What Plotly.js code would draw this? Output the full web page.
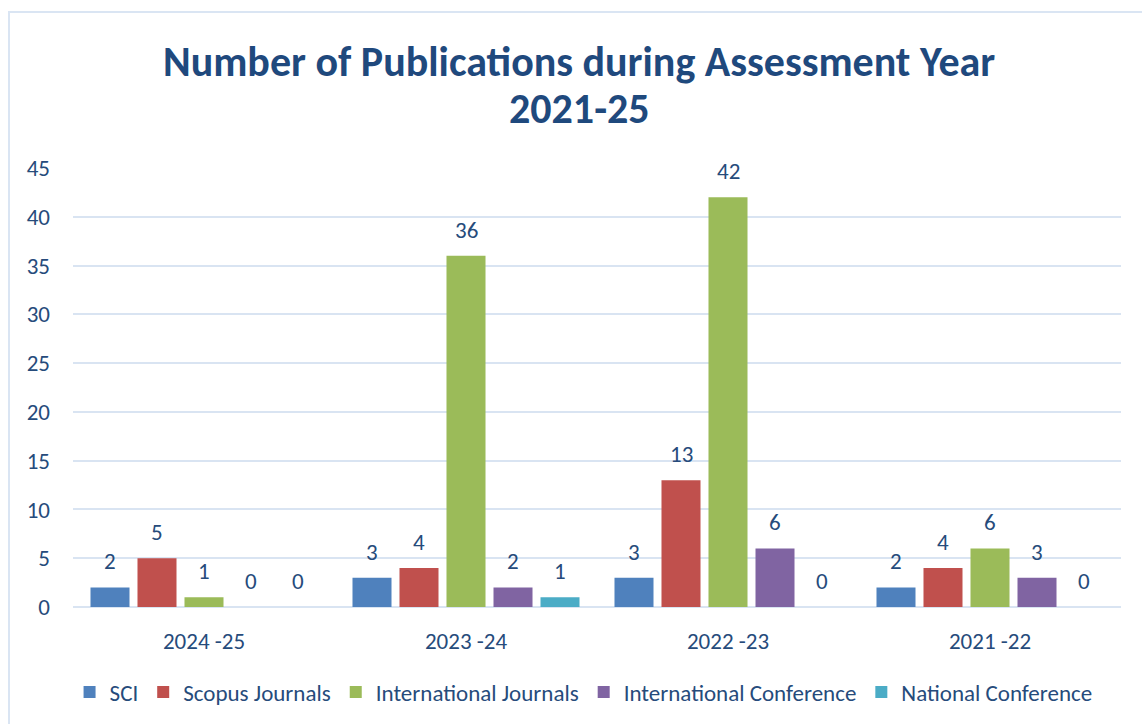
<!DOCTYPE html>
<html>
<head>
<meta charset="utf-8">
<script src="https://cdn.plot.ly/plotly-3.0.1.min.js"></script>
<style>
  html, body { margin: 0; padding: 0; background: #ffffff; overflow: hidden; }
  #frame { position: absolute; left: 8px; top: 11px; width: 1150px; height: 730px;
           border: 2px solid #DAE5F3; box-sizing: border-box; pointer-events: none; }
  #chart { position: absolute; left: 0; top: 0; width: 1142px; height: 724px; }
</style>
</head>
<body>
<div id="chart"></div>
<div id="frame"></div>
<script>
const categories = ["2024 -25", "2023 -24", "2022 -23", "2021 -22"];
const seriesNames = ["SCI", "Scopus Journals", "International Journals", "International Conference", "National Conference"];
const sci = [2, 3, 3, 2];
const scopus = [5, 4, 13, 4];
const intlJournals = [1, 36, 42, 6];
const intlConference = [0, 2, 6, 3];
const nationalConference = [0, 1, 0, 0];
const yTicks = [0, 5, 10, 15, 20, 25, 30, 35, 40, 45];
const titleLines = ["Number of Publications during Assessment Year", "2021-25"];

const seriesValues = [sci, scopus, intlJournals, intlConference, nationalConference];
const colors = ["#4F81BD", "#C0504D", "#9BBB59", "#8064A2", "#4BACC6"];
const textColor = "#264B7B";
const fontFam = "Calibri, Carlito, Lato, 'Open Sans', sans-serif";
const bargap = 0.103;

const traces = seriesValues.map((vals, i) => ({
  type: "bar",
  name: seriesNames[i],
  x: categories,
  y: vals,
  marker: { color: colors[i] },
  hoverinfo: "skip"
}));

const nS = seriesValues.length;
const slot = (1 - bargap) / nS;
const annotations = [];
seriesValues.forEach((vals, i) => {
  vals.forEach((v, c) => {
    annotations.push({
      xref: "x", yref: "y",
      x: c + (i - (nS - 1) / 2) * slot,
      y: v,
      text: String(v),
      showarrow: false,
      yanchor: "bottom",
      yshift: 10,
      font: { family: fontFam, size: 23, color: textColor }
    });
  });
});

// title lines as annotations (paper coords above plot area)
const titleY = [1.243, 1.135];
titleLines.forEach((t, k) => {
  annotations.push({
    xref: "paper", yref: "paper",
    x: (579 - 73) / 1048, y: titleY[k],
    xanchor: "center", yanchor: "middle",
    text: "<b>" + t + "</b>",
    showarrow: false,
    font: { family: fontFam, size: 42, color: "#1F497D" }
  });
});

const layout = {
  width: 1142, height: 724,
  paper_bgcolor: "#ffffff", plot_bgcolor: "#ffffff",
  margin: { l: 73, r: 21, t: 168, b: 117 },
  barmode: "group",
  bargap: bargap,
  bargroupgap: 0.17,
  xaxis: {
    type: "category",
    showgrid: false, zeroline: false,
    showline: false,
    ticks: "",
    ticklabelstandoff: 18,
    tickfont: { family: fontFam, size: 23, color: textColor },
    fixedrange: true
  },
  yaxis: {
    range: [0, 45],
    tickvals: yTicks,
    ticktext: yTicks.map(String),
    showgrid: true, gridcolor: "#D9E4F2", gridwidth: 2,
    zeroline: true, zerolinecolor: "#D9E4F2", zerolinewidth: 2,
    showline: false, ticks: "",
    ticklabelstandoff: 22,
    tickfont: { family: fontFam, size: 23, color: textColor },
    fixedrange: true
  },
  showlegend: true,
  legend: {
    orientation: "h",
    xref: "container", x: 0.511, xanchor: "center",
    yref: "container", y: 0.044, yanchor: "middle",
    font: { family: fontFam, size: 23, color: textColor },
    itemwidth: 30,
    tracegroupgap: 0,
    traceorder: "normal"
  },
  annotations: annotations
};

Plotly.newPlot("chart", traces, layout, { displayModeBar: false, staticPlot: true });
</script>
</body>
</html>
